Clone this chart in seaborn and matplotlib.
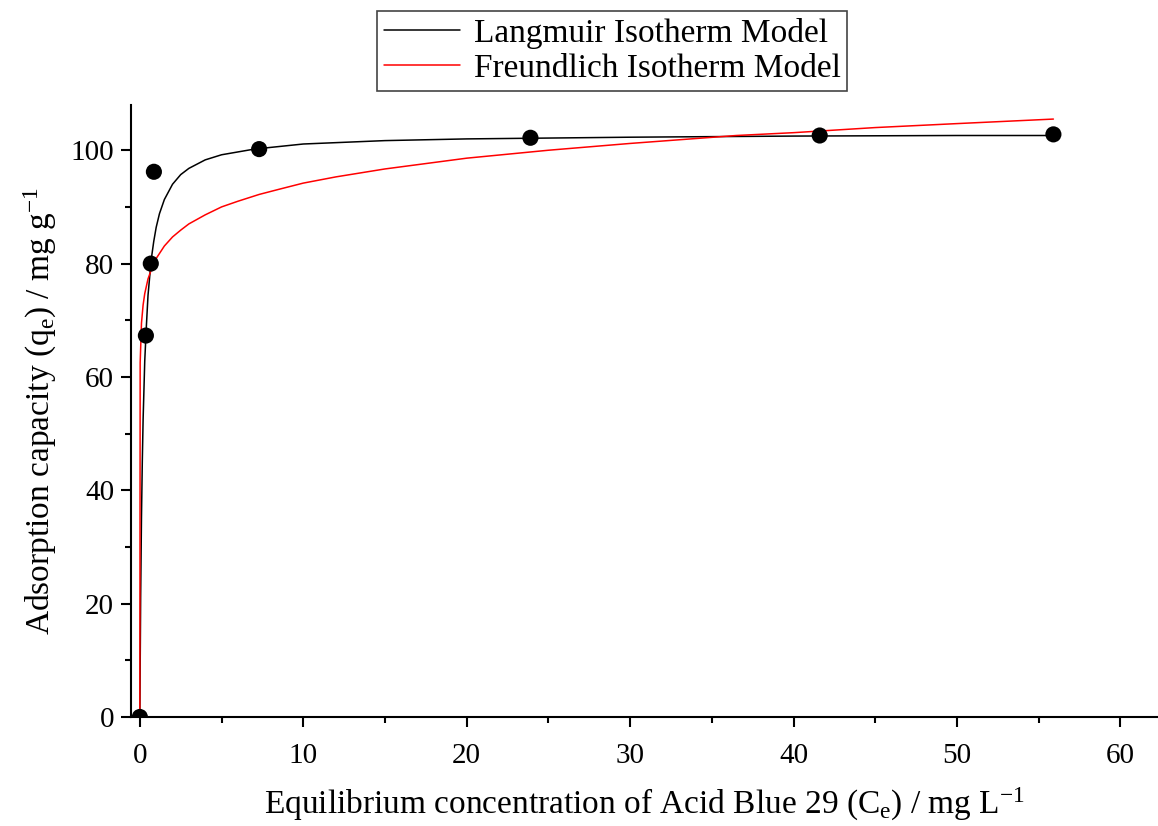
import pandas as pd
import matplotlib
matplotlib.use("Agg")
import matplotlib.pyplot as plt
import seaborn as sns
from matplotlib.ticker import MultipleLocator

# -- Experimental points -------------------------------------------------------
ce_points = [0.0, 0.37, 0.67, 0.86, 7.3, 23.9, 41.6, 55.9]
qe_points = [0.0, 67.3, 80.0, 96.2, 100.2, 102.2, 102.6, 102.8]

# -- Model curves --------------------------------------------------------------
langmuir_x = [0, 0.05, 0.1, 0.15, 0.2, 0.3, 0.4, 0.5, 0.7, 0.85, 1.0, 1.2, 1.5,
              2.0, 2.5, 3.0, 4.0, 5.0, 7.0, 10, 15, 20, 30, 40, 50, 56]
langmuir_q = [0, 21.3, 35.2, 45.0, 52.5, 62.8, 69.0, 74.4, 80.8, 83.9, 86.4, 88.8, 91.3,
              94.0, 95.7, 96.8, 98.3, 99.2, 100.2, 101.1, 101.7, 102.0, 102.3, 102.5, 102.6, 102.6]

freundlich_x = [0, 0.02, 0.1, 0.2, 0.3, 0.5, 0.75, 1, 1.5, 2, 2.5, 3, 4, 5, 6, 7.3,
                8.5, 10, 12, 15, 20, 25, 30, 36.5, 40, 45, 50, 55.9]
freundlich_q = [0, 62.5, 69.5, 72.7, 74.7, 77.3, 79.3, 80.9, 83.1, 84.7, 85.9, 87.0,
                88.6, 90.0, 91.0, 92.2, 93.1, 94.2, 95.3, 96.7, 98.6, 100.0, 101.2,
                102.6, 103.1, 104.0, 104.7, 105.5]

pts = pd.DataFrame({"Ce": ce_points, "qe": qe_points})
lang = pd.DataFrame({"Ce": langmuir_x, "qe": langmuir_q})
freu = pd.DataFrame({"Ce": freundlich_x, "qe": freundlich_q})

# -- Style ---------------------------------------------------------------------
sns.set_theme(style="ticks")
plt.rcParams["font.family"] = ["Liberation Serif", "DejaVu Serif"]
plt.rcParams["mathtext.fontset"] = "custom"
plt.rcParams["mathtext.rm"] = "Liberation Serif"
plt.rcParams["mathtext.it"] = "Liberation Serif:italic"
for key in ["text.color", "axes.labelcolor", "xtick.color", "ytick.color"]:
    plt.rcParams[key] = "black"

fig = plt.figure(figsize=(11.58, 8.26), dpi=100)
ax = fig.add_axes([0.113, 0.132, 0.887, 0.741])

sns.lineplot(data=lang, x="Ce", y="qe", ax=ax, color="black", lw=1.1,
             sort=False, estimator=None, label="Langmuir Isotherm Model")
sns.lineplot(data=freu, x="Ce", y="qe", ax=ax, color="red", lw=1.1,
             sort=False, estimator=None, label="Freundlich Isotherm Model")
sns.scatterplot(data=pts, x="Ce", y="qe", ax=ax, color="black", s=135,
                edgecolor="none", zorder=5, legend=False)

ax.set_xlim(-0.55, 62.3)
ax.set_ylim(0, 108)
ax.xaxis.set_major_locator(MultipleLocator(10))
ax.xaxis.set_minor_locator(MultipleLocator(5))
ax.yaxis.set_major_locator(MultipleLocator(20))
ax.yaxis.set_minor_locator(MultipleLocator(10))
ax.tick_params(which="major", direction="out", length=7, width=1.5,
               labelsize=21, pad=5)
ax.tick_params(axis="x", which="major", pad=12)
ax.tick_params(which="minor", direction="out", length=4, width=1.5)
for side in ["top", "right"]:
    ax.spines[side].set_visible(False)
for side in ["left", "bottom"]:
    ax.spines[side].set_linewidth(1.5)
    ax.spines[side].set_color("black")

ax.set_xlabel("Equilibrium concentration of Acid Blue 29 (C$_\\mathrm{e}$) / mg L$^\\mathrm{-1}$",
              fontsize=24, labelpad=12)
ax.set_ylabel("Adsorption capacity (q$_\\mathrm{e}$) / mg g$^\\mathrm{-1}$",
              fontsize=24, labelpad=8)

ax.legend(loc="upper left", bbox_to_anchor=(0.3256, 0.9867),
          bbox_transform=fig.transFigure, borderaxespad=0, fontsize=24,
          frameon=True, fancybox=False, edgecolor="#444444", framealpha=1,
          handlelength=2.3, handletextpad=0.4, labelspacing=0.15,
          borderpad=0.2)
ax.get_legend().get_frame().set_linewidth(1.2)

fig.savefig("out.png", dpi=100)
